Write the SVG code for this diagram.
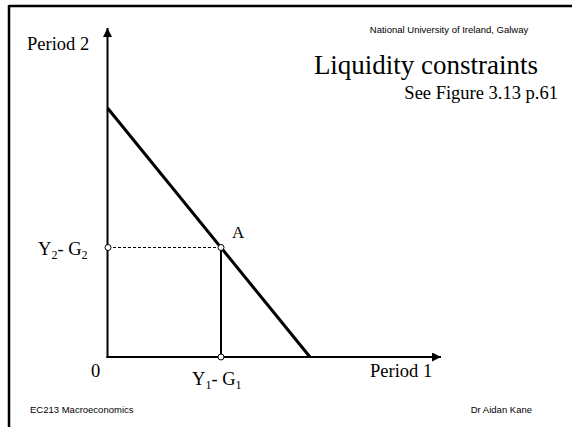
<svg xmlns="http://www.w3.org/2000/svg" width="572" height="427" viewBox="0 0 572 427">
<style>
.serif{font-family:"Liberation Serif","Times New Roman",serif;fill:#000}
.sans{font-family:"Liberation Sans",Arial,sans-serif;fill:#000}
.ax{stroke:#000;stroke-width:2;fill:none}
.pt{fill:#fff;stroke:#000;stroke-width:1}
</style>
<defs>
<marker id="arr" viewBox="0 0 10 10" refX="10" refY="5" markerWidth="9" markerHeight="9" markerUnits="userSpaceOnUse" orient="auto">
<path d="M0,0 L10,5 L0,10 z" fill="#000"/>
</marker>
</defs>
<rect width="572" height="427" fill="#fff"/>
<g id="frame">
<line x1="9" y1="6" x2="572" y2="6" stroke="#000" stroke-width="2.5"/>
<line x1="9" y1="5" x2="9" y2="427" stroke="#000" stroke-width="2.5"/>
</g>
<g id="header">
<text class="sans" x="449" y="33" font-size="9.5" text-anchor="middle">National University of Ireland, Galway</text>
<text class="serif" x="426" y="74" font-size="27" text-anchor="middle">Liquidity constraints</text>
<text class="serif" x="558" y="99" font-size="18.5" text-anchor="end">See Figure 3.13 p.61</text>
</g>
<g id="connectors">
<line id="y-axis" class="ax" x1="107.5" y1="358" x2="107.5" y2="28" marker-end="url(#arr)"/>
<line id="x-axis" class="ax" x1="106.5" y1="357" x2="441" y2="357" marker-end="url(#arr)"/>
<line id="budget" x1="107.5" y1="108" x2="310" y2="357" stroke="#000" stroke-width="3"/>
<line id="drop" x1="221" y1="247.5" x2="221" y2="357" stroke="#000" stroke-width="2"/>
<line id="dash" x1="108" y1="247.5" x2="221" y2="247.5" stroke="#000" stroke-width="1" stroke-dasharray="3,2"/>
</g>
<g id="point-A">
<circle class="pt" cx="221" cy="247.5" r="3"/>
<text class="serif" x="232" y="238" font-size="17">A</text>
</g>
<g id="point-y2">
<circle class="pt" cx="108" cy="247.5" r="3"/>
<text class="serif" x="38" y="255" font-size="18.5">Y<tspan font-size="12" dy="4">2</tspan><tspan dy="-4">- G</tspan><tspan font-size="12" dy="4">2</tspan></text>
</g>
<g id="point-y1">
<circle class="pt" cx="221" cy="357" r="3"/>
<text class="serif" x="192" y="385" font-size="18.5">Y<tspan font-size="12" dy="4">1</tspan><tspan dy="-4">- G</tspan><tspan font-size="12" dy="4">1</tspan></text>
</g>
<g id="labels">
<text class="serif" x="27" y="50" font-size="18.5">Period 2</text>
<text class="serif" x="91" y="377" font-size="18.5">0</text>
<text class="serif" x="370" y="377" font-size="18.5">Period 1</text>
</g>
<g id="footer">
<text class="sans" x="30" y="413" font-size="9.5">EC213  Macroeconomics</text>
<text class="sans" x="532" y="413" font-size="9.5" text-anchor="end">Dr Aidan Kane</text>
</g>
</svg>
